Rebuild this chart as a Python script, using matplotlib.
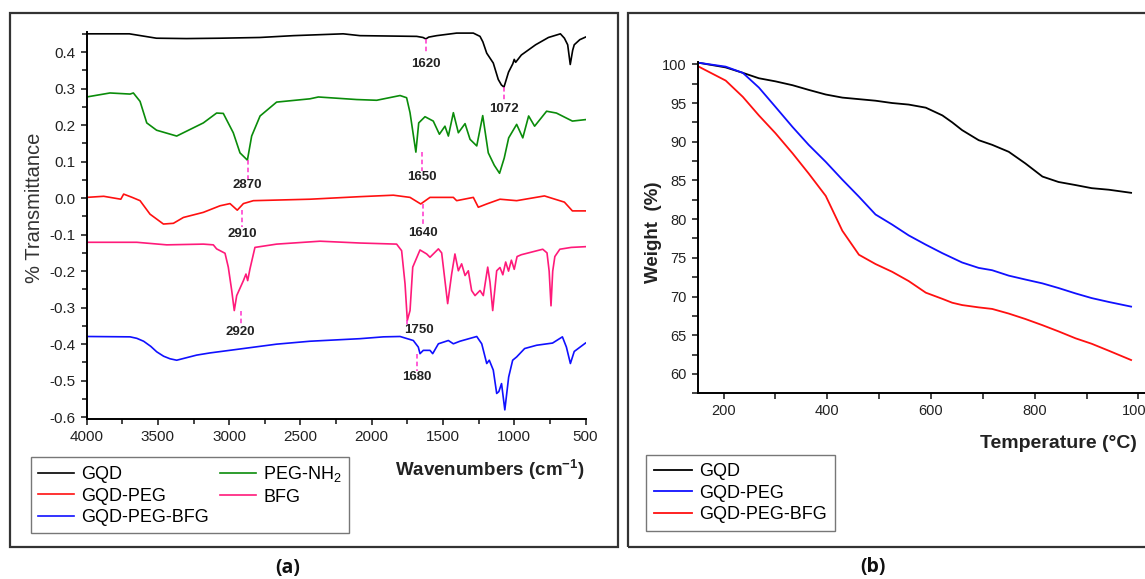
import numpy as np
import matplotlib
matplotlib.use("Agg")
import matplotlib.pyplot as plt
from matplotlib.patches import Rectangle
from matplotlib.ticker import MultipleLocator

plt.rcParams["font.family"] = ["Liberation Sans", "DejaVu Sans"]
plt.rcParams["mathtext.fontset"] = "custom"
plt.rcParams["mathtext.rm"] = "Liberation Sans"
plt.rcParams["mathtext.bf"] = "Liberation Sans:bold"

# ---------- FTIR spectra (wavenumber, % transmittance offset) ----------
gqd_wn = [4000, 3700, 3510, 3300, 3064, 2784, 2550, 2200, 2082, 1684, 1640, 1620, 1600, 1544,
          1404, 1287, 1240, 1220, 1193, 1147, 1112, 1090, 1072, 1040, 1010, 1000, 990, 950, 850,
          760, 676, 648, 625, 607, 590, 579, 540, 500]
gqd_y = [0.450, 0.450, 0.438, 0.437, 0.438, 0.440, 0.445, 0.450, 0.445, 0.443, 0.440, 0.436, 0.441,
         0.445, 0.452, 0.452, 0.443, 0.428, 0.397, 0.370, 0.325, 0.310, 0.304, 0.345, 0.368, 0.380,
         0.372, 0.392, 0.420, 0.440, 0.450, 0.438, 0.420, 0.366, 0.405, 0.420, 0.434, 0.441]

peg_wn = [4000, 3836, 3695, 3672, 3625, 3578, 3509, 3368, 3181, 3088, 3041, 2971, 2924, 2872,
          2842, 2783, 2667, 2433, 2374, 2105, 1965, 1801, 1755, 1731, 1690, 1670, 1626, 1568,
          1525, 1486, 1462, 1427, 1392, 1345, 1310, 1263, 1221, 1182, 1140, 1103, 1070, 1039,
          983, 940, 899, 857, 773, 704, 592, 500]
peg_y = [0.277, 0.288, 0.285, 0.288, 0.265, 0.206, 0.186, 0.170, 0.206, 0.233, 0.232, 0.179, 0.124,
         0.104, 0.170, 0.225, 0.263, 0.272, 0.277, 0.270, 0.268, 0.281, 0.275, 0.234, 0.126, 0.206,
         0.223, 0.211, 0.175, 0.197, 0.170, 0.234, 0.179, 0.204, 0.161, 0.143, 0.226, 0.124, 0.090,
         0.068, 0.110, 0.165, 0.202, 0.165, 0.225, 0.197, 0.238, 0.233, 0.211, 0.215]

gqdpeg_wn = [4000, 3880, 3760, 3740, 3680, 3625, 3555, 3461, 3391, 3321, 3181, 3064, 2994,
             2943, 2900, 2830, 2433, 2082, 1848, 1731, 1656, 1591, 1427, 1404, 1287, 1252,
             1193, 1100, 983, 788, 648, 592, 500]
gqdpeg_y = [0.002, 0.005, -0.003, 0.011, 0.002, -0.007, -0.044, -0.071, -0.069, -0.053, -0.039,
            -0.021, -0.015, -0.033, -0.015, -0.007, -0.003, 0.004, 0.008, 0.002, -0.016, 0.002,
            0.002, -0.007, 0.002, -0.025, -0.016, -0.003, -0.007, 0.006, -0.011, -0.035, -0.035]

bfg_wn = [4000, 3648, 3438, 3181, 3111, 3088, 3029, 3006, 2982, 2964, 2947, 2900, 2882, 2870,
          2854, 2819, 2667, 2362, 2082, 1825, 1790, 1766, 1750, 1731, 1712, 1661, 1614, 1591,
          1532, 1509, 1486, 1467, 1439, 1416, 1392, 1369, 1345, 1322, 1299, 1275, 1240, 1217,
          1186, 1170, 1151, 1123, 1100, 1080, 1060, 1040, 1020, 1000, 980, 950, 900, 850, 800,
          770, 755, 742, 730, 715, 680, 600, 500]
bfg_y = [-0.121, -0.121, -0.128, -0.126, -0.128, -0.139, -0.151, -0.189, -0.253, -0.308, -0.267,
         -0.226, -0.208, -0.226, -0.194, -0.135, -0.126, -0.118, -0.123, -0.126, -0.144, -0.235,
         -0.335, -0.308, -0.189, -0.142, -0.153, -0.162, -0.139, -0.150, -0.226, -0.289, -0.208,
         -0.153, -0.199, -0.180, -0.212, -0.199, -0.253, -0.267, -0.253, -0.267, -0.189, -0.230,
         -0.308, -0.199, -0.190, -0.210, -0.175, -0.200, -0.170, -0.195, -0.160, -0.155, -0.150,
         -0.145, -0.140, -0.150, -0.200, -0.295, -0.200, -0.160, -0.140, -0.135, -0.133]

gpb_wn = [4000, 3695, 3648, 3600, 3550, 3508, 3460, 3415, 3368, 3228, 3134, 2900, 2667, 2433,
          2082, 1918, 1801, 1708, 1673, 1661, 1638, 1591, 1572, 1532, 1462, 1427, 1381, 1263,
          1228, 1193, 1175, 1147, 1123, 1108, 1089, 1066, 1039, 1011, 983, 927, 843, 731, 662,
          634, 606, 579, 500]
gpb_y = [-0.379, -0.380, -0.384, -0.392, -0.406, -0.421, -0.433, -0.440, -0.444, -0.430, -0.424,
         -0.412, -0.400, -0.392, -0.385, -0.380, -0.379, -0.390, -0.408, -0.426, -0.417, -0.417,
         -0.426, -0.399, -0.390, -0.399, -0.392, -0.379, -0.399, -0.453, -0.444, -0.471, -0.535,
         -0.530, -0.508, -0.580, -0.490, -0.444, -0.435, -0.412, -0.403, -0.397, -0.380, -0.408,
         -0.453, -0.420, -0.397]

# peak markers: (wavenumber, dash top, dash bottom, label y)
peaks = [(1620, 0.436, 0.395, 0.367), (1072, 0.304, 0.262, 0.243),
         (2870, 0.104, 0.052, 0.035), (1650, 0.126, 0.075, 0.059),
         (2910, -0.033, -0.078, -0.098), (1640, -0.016, -0.075, -0.095),
         (2920, -0.308, -0.350, -0.368), (1680, -0.426, -0.474, -0.491)]

# ---------- TGA (temperature, weight %) ----------
tga_T = [152, 204, 237, 268, 300, 333, 364, 397, 429, 461, 493, 525, 557, 590, 622, 641, 660,
         692, 718, 750, 782, 815, 846, 879, 910, 943, 986]
tga_gqd = [100.2, 99.6, 98.9, 98.2, 97.8, 97.3, 96.7, 96.1, 95.7, 95.5, 95.3, 95.0, 94.8, 94.4,
           93.4, 92.5, 91.5, 90.2, 89.6, 88.7, 87.2, 85.5, 84.8, 84.4, 84.0, 83.8, 83.4]
tga_peg = [100.2, 99.7, 98.9, 97.0, 94.5, 91.9, 89.6, 87.4, 85.1, 82.9, 80.6, 79.3, 77.9, 76.7,
           75.6, 75.0, 74.4, 73.7, 73.4, 72.7, 72.2, 71.7, 71.1, 70.4, 69.8, 69.3, 68.7]
tga_bfg = [99.7, 97.9, 95.8, 93.4, 91.1, 88.5, 85.9, 83.0, 78.5, 75.4, 74.2, 73.2, 72.0, 70.5,
           69.7, 69.2, 68.9, 68.6, 68.4, 67.8, 67.1, 66.3, 65.5, 64.6, 63.9, 63.0, 61.8]

W, H = 1145, 579
fig = plt.figure(figsize=(W / 100, H / 100), dpi=100)

def fx(px): return px / W
def fy(py): return 1 - py / H

# panel frames
for x0, y0, x1, y1 in [(10, 13, 618, 547), (628, 13, 1160, 547)]:
    fig.patches.append(Rectangle((fx(x0), fy(y1)), fx(x1 - x0), (y1 - y0) / H,
                                 transform=fig.transFigure, fill=False,
                                 edgecolor="#333333", lw=1.6))

def style_axes(ax, size):
    for s in ["top", "right"]:
        ax.spines[s].set_visible(False)
    for s in ["left", "bottom"]:
        ax.spines[s].set_linewidth(1.4)
    ax.tick_params(which="both", direction="out", width=1.1, colors="#111111",
                   labelsize=size, labelcolor="#222222")
    ax.tick_params(which="major", length=4.5)
    ax.tick_params(which="minor", length=3.5)

def add_legend(ax, x, y, **kw):
    leg = ax.legend(loc="upper left", bbox_to_anchor=(fx(x), fy(y)),
                    bbox_transform=fig.transFigure, fontsize=13, frameon=True,
                    fancybox=False, edgecolor="#555555", handletextpad=0.4,
                    labelspacing=0.25, borderaxespad=0, **kw)
    leg.get_frame().set_linewidth(1.0)
    return leg

# ---------- (a) FTIR ----------
ax1 = fig.add_axes([fx(86.6), fy(419), fx(585.5 - 86.6), (419 - 32) / H])
lw = 1.2
ax1.plot(gqd_wn, gqd_y, color="black", lw=lw, label="GQD")
ax1.plot(gqdpeg_wn, gqdpeg_y, color="#ff1010", lw=lw, label="GQD-PEG")
ax1.plot(gpb_wn, gpb_y, color="#1010ff", lw=lw, label="GQD-PEG-BFG")
ax1.plot(peg_wn, peg_y, color="#0a8c0a", lw=lw, label="PEG-NH$_2$")
ax1.plot(bfg_wn, bfg_y, color="#ff1a7a", lw=lw, label="BFG")
for wn, top, bot, ly in peaks:
    ax1.plot([wn, wn], [top, bot], color="#ff33cc", lw=1.1, ls=(0, (3, 2)))
    ax1.text(wn, ly, str(wn), ha="center", va="center", fontsize=9.5, fontweight="bold",
             color="#222222")
ax1.plot([1750, 1750], [-0.335, -0.352], color="#ff33cc", lw=1.1, ls=(0, (3, 2)))
ax1.text(1775, -0.362, "1750", ha="left", va="center", fontsize=9.5, fontweight="bold",
         color="#222222")
ax1.set_xlim(4000, 500)
ax1.set_ylim(-0.605, 0.455)
ax1.xaxis.set_major_locator(MultipleLocator(500))
ax1.xaxis.set_minor_locator(MultipleLocator(250))
ax1.yaxis.set_major_locator(MultipleLocator(0.1))
ax1.yaxis.set_minor_locator(MultipleLocator(0.05))
ax1.yaxis.set_major_formatter(lambda v, p: f"{v:.1f}".replace("-0.0", "0.0"))
style_axes(ax1, 11)
add_legend(ax1, 31, 457, ncol=2, columnspacing=0.6, handlelength=2.0, borderpad=0.4)

fig.text(fx(35), fy(208), "% Transmittance", rotation=90, ha="center", va="center",
         fontsize=14.5, color="#333333")
fig.text(fx(490), fy(470), "Wavenumbers (cm$^{\\mathregular{-1}}$)", ha="center",
         va="center", fontsize=13.5, fontweight="bold", color="#222222")
fig.text(fx(288), fy(568), "(a)", ha="center", va="center", fontsize=14,
         fontweight="bold", color="#111111", family=["Open Sans", "DejaVu Sans"])

# ---------- (b) TGA ----------
ax2 = fig.add_axes([fx(697.7), fy(393.3), fx(1153.9 - 697.7), (393.3 - 62) / H])
ax2.plot(tga_T, tga_gqd, color="black", lw=1.3, label="GQD")
ax2.plot(tga_T, tga_peg, color="#1010ff", lw=1.3, label="GQD-PEG")
ax2.plot(tga_T, tga_bfg, color="#ff1010", lw=1.3, label="GQD-PEG-BFG")
ax2.set_xlim(150, 1030)
ax2.set_ylim(57.5, 100.3)
ax2.xaxis.set_major_locator(MultipleLocator(200))
ax2.xaxis.set_minor_locator(MultipleLocator(100))
ax2.yaxis.set_major_locator(MultipleLocator(5))
ax2.yaxis.set_minor_locator(MultipleLocator(2.5))
style_axes(ax2, 10.5)
ax2.tick_params(which="minor", length=4.5)
add_legend(ax2, 646, 455, handlelength=2.1, borderpad=0.45)

fig.text(fx(654), fy(232), "Weight  (%)", rotation=90, ha="center", va="center",
         fontsize=13.5, fontweight="bold", color="#222222")
fig.text(fx(1058), fy(444), "Temperature (°C)", ha="center", va="center",
         fontsize=14, fontweight="bold", color="#222222")
fig.text(fx(873), fy(567), "(b)", ha="center", va="center", fontsize=14,
         fontweight="bold", color="#111111", family=["Open Sans", "DejaVu Sans"])

fig.savefig("out.png", dpi=100)
